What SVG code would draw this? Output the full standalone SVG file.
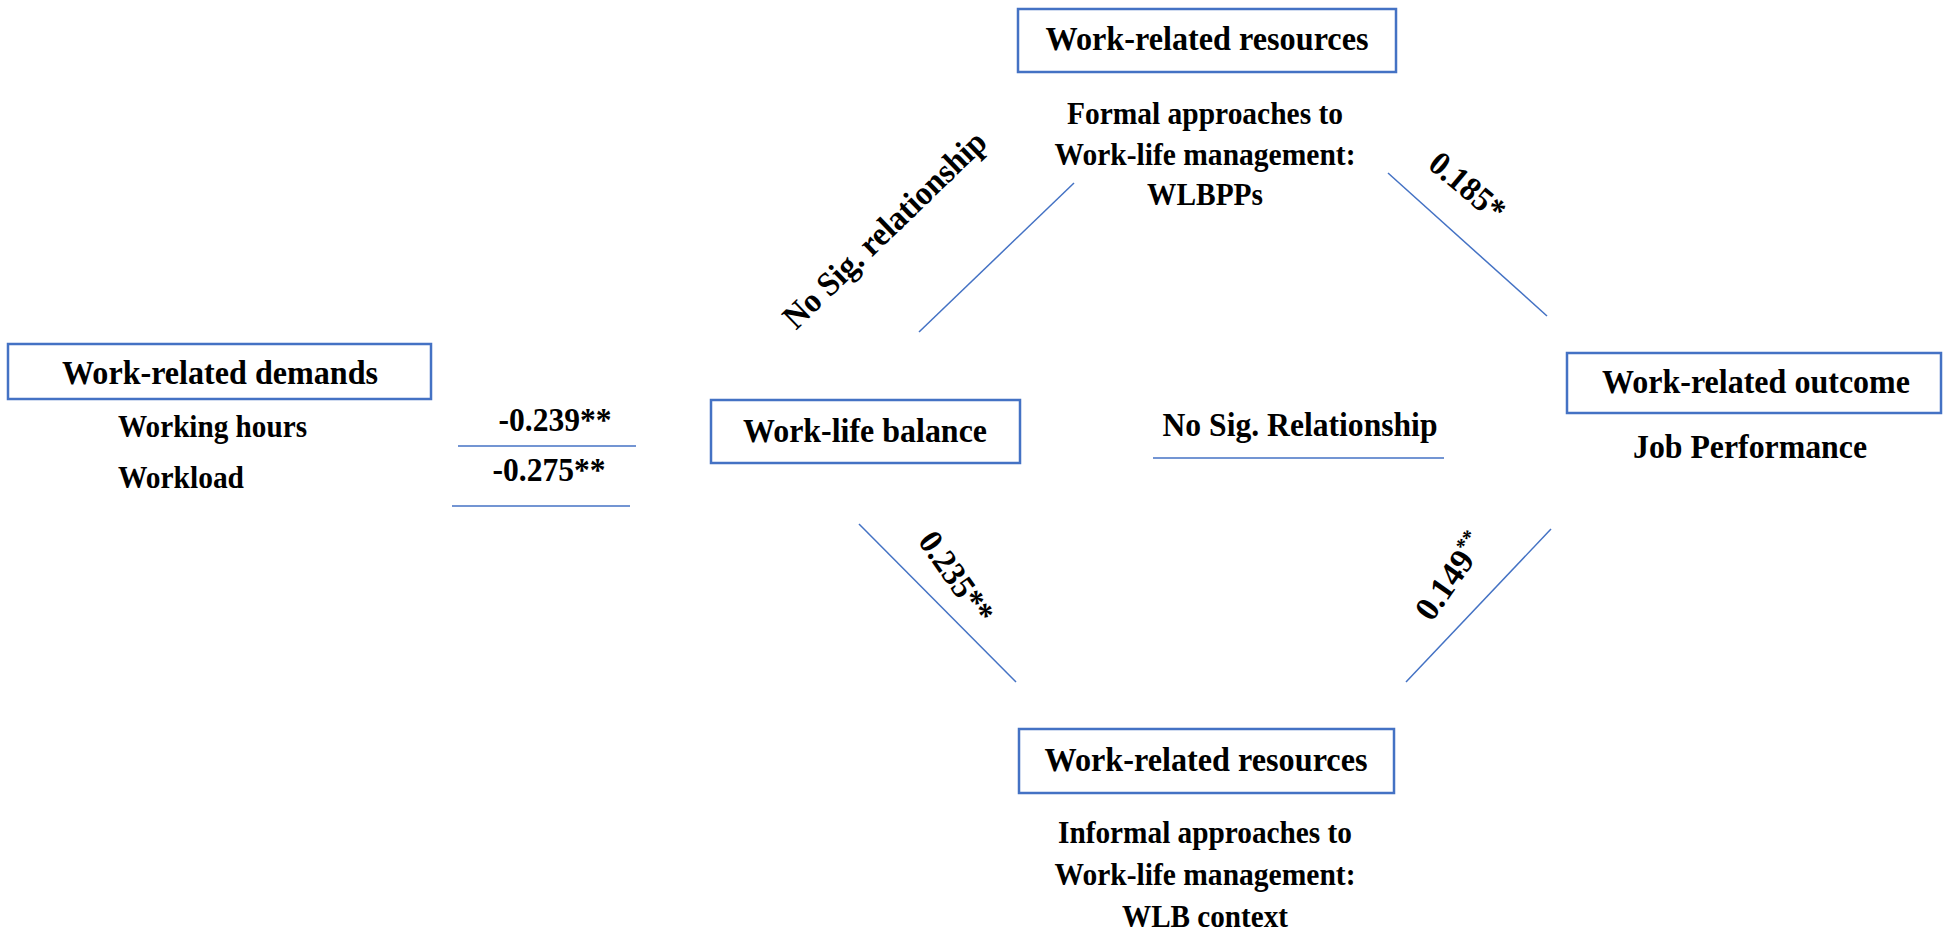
<svg xmlns="http://www.w3.org/2000/svg" width="1943" height="937" viewBox="0 0 1943 937">
  <style>
    .box { fill: #ffffff; stroke: #4472C4; stroke-width: 2.5; }
    .link { stroke: #4472C4; stroke-width: 1.5; fill: none; }
    text { font-family: "Liberation Serif", "Times New Roman", serif; font-weight: bold; fill: #000000; }
    .t { font-size: 34px; text-anchor: middle; }
    .s { font-size: 31px; }
    .sc { font-size: 31px; text-anchor: middle; }
  </style>
  <rect width="1943" height="937" fill="#ffffff"/>

  <!-- connectors -->
  <g id="connectors">
    <line class="link" x1="458" y1="446" x2="636" y2="446"/>
    <line class="link" x1="452" y1="506" x2="630" y2="506"/>
    <line class="link" x1="919" y1="332" x2="1074" y2="183"/>
    <line class="link" x1="1388" y1="173" x2="1547" y2="316"/>
    <line class="link" x1="1153" y1="458" x2="1444" y2="458"/>
    <line class="link" x1="859" y1="524" x2="1016" y2="682"/>
    <line class="link" x1="1551" y1="529" x2="1406" y2="682"/>
  </g>

  <!-- connector labels -->
  <g id="labels">
    <text class="t" x="555" y="431" textLength="113" lengthAdjust="spacingAndGlyphs">-0.239**</text>
    <text class="t" x="549" y="481" textLength="113" lengthAdjust="spacingAndGlyphs">-0.275**</text>
    <text class="t" x="884" y="241" transform="rotate(-44 884 229)" textLength="268" lengthAdjust="spacingAndGlyphs">No Sig. relationship</text>
    <text class="t" x="1468" y="198" transform="rotate(40 1468 186)" textLength="88" lengthAdjust="spacingAndGlyphs">0.185*</text>
    <text class="t" x="1300" y="436" textLength="275" lengthAdjust="spacingAndGlyphs">No Sig. Relationship</text>
    <text class="t" x="957" y="589" transform="rotate(55 957 577)" textLength="104" lengthAdjust="spacingAndGlyphs">0.235**</text>
    <text class="t" x="1450" y="588" transform="rotate(-55 1450 576)">0.149<tspan font-size="21" dy="-12">**</tspan></text>
  </g>

  <g id="demands">
    <rect class="box" x="8" y="344" width="423" height="55"/>
    <text class="t" x="220" y="384" textLength="316" lengthAdjust="spacingAndGlyphs">Work-related demands</text>
    <text class="s" x="118" y="437" textLength="189" lengthAdjust="spacingAndGlyphs">Working hours</text>
    <text class="s" x="118" y="488" textLength="126" lengthAdjust="spacingAndGlyphs">Workload</text>
  </g>

  <g id="work-life-balance">
    <rect class="box" x="711" y="400" width="309" height="63"/>
    <text class="t" x="865" y="442" textLength="244" lengthAdjust="spacingAndGlyphs">Work-life balance</text>
  </g>

  <g id="formal-resources">
    <rect class="box" x="1018" y="9" width="378" height="63"/>
    <text class="t" x="1207" y="50" textLength="323" lengthAdjust="spacingAndGlyphs">Work-related resources</text>
    <text class="sc" x="1205" y="124" textLength="276" lengthAdjust="spacingAndGlyphs">Formal approaches to</text>
    <text class="sc" x="1205" y="165" textLength="301" lengthAdjust="spacingAndGlyphs">Work-life management:</text>
    <text class="sc" x="1205" y="205" textLength="116" lengthAdjust="spacingAndGlyphs">WLBPPs</text>
  </g>

  <g id="outcome">
    <rect class="box" x="1567" y="353" width="374" height="60"/>
    <text class="t" x="1756" y="393" textLength="308" lengthAdjust="spacingAndGlyphs">Work-related outcome</text>
    <text class="t" x="1750" y="458" textLength="234" lengthAdjust="spacingAndGlyphs">Job Performance</text>
  </g>

  <g id="informal-resources">
    <rect class="box" x="1019" y="729" width="375" height="64"/>
    <text class="t" x="1206" y="771" textLength="323" lengthAdjust="spacingAndGlyphs">Work-related resources</text>
    <text class="sc" x="1205" y="843" textLength="294" lengthAdjust="spacingAndGlyphs">Informal approaches to</text>
    <text class="sc" x="1205" y="885" textLength="301" lengthAdjust="spacingAndGlyphs">Work-life management:</text>
    <text class="sc" x="1205" y="927" textLength="166" lengthAdjust="spacingAndGlyphs">WLB context</text>
  </g>
</svg>
